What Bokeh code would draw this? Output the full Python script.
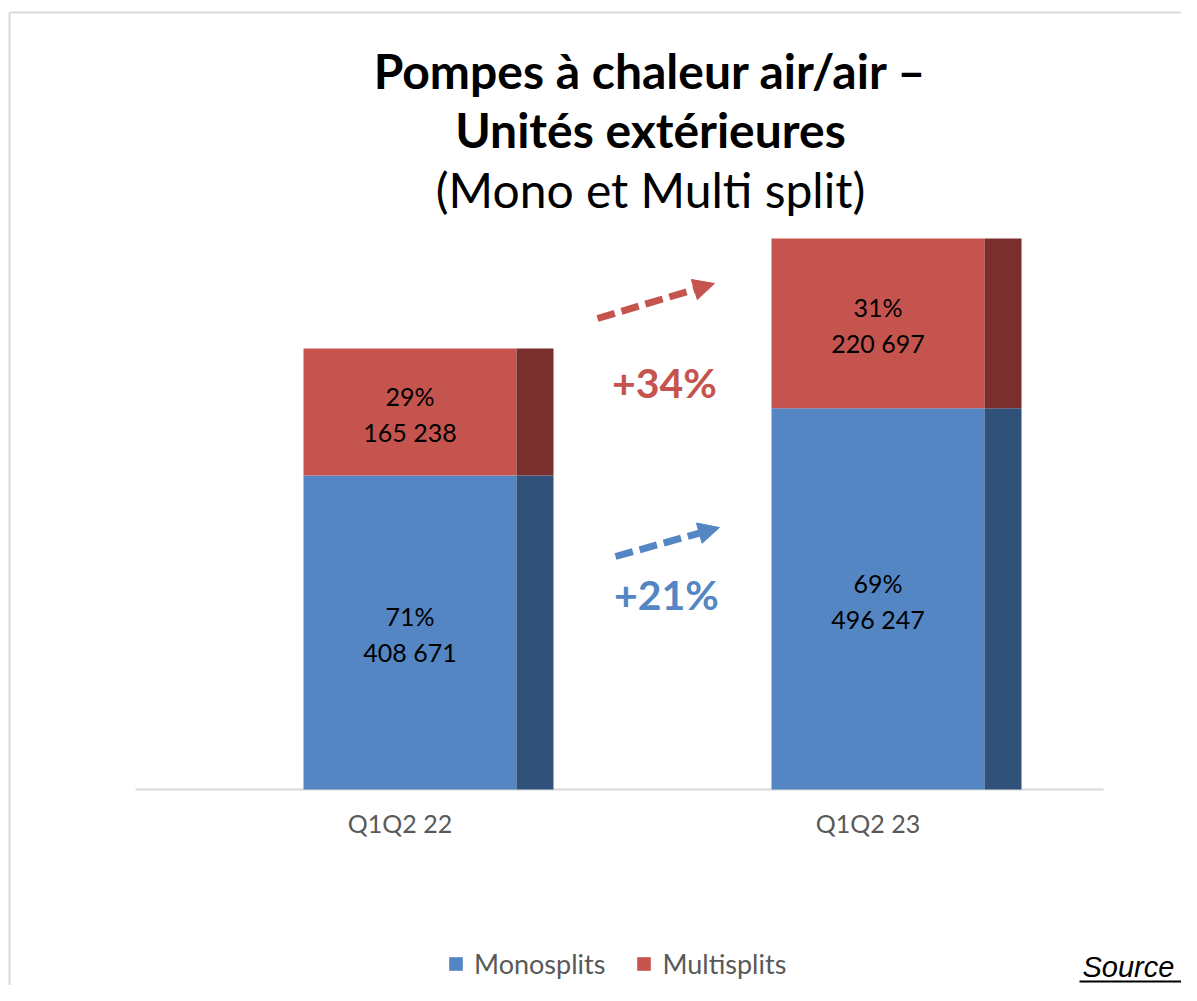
from bokeh.plotting import figure
from bokeh.models import Range1d, ColumnDataSource, Arrow, NormalHead
from bokeh.embed import file_html
from bokeh.resources import INLINE
from bokeh.core.properties import value

# ---------------- data ----------------
CATEGORIES = ["Q1Q2 22", "Q1Q2 23"]
SERIES = ["Monosplits", "Multisplits"]
MONOSPLITS = [408671, 496247]
MULTISPLITS = [165238, 220697]
TITLE_LINES = ["Pompes à chaleur air/air –", "Unités extérieures", "(Mono et Multi split)"]
SOURCE_TEXT = "Source"

# ---------------- style / layout ----------------
BLUE, RED = "#5386C3", "#C5544F"
DBLUE, DRED = "#30527A", "#7A2E2E"
GREY_TXT = "#595959"
LINE_GREY = "#D9D9D9"
FONT = "Lato"

W, H = 1181, 985
BASE_Y = 789        # pixel y of the zero line
TOP_Y = 348         # pixel y of the first bar top
BAR0_X = 409.5      # pixel x of first front-face centre
STEP = 468          # px between categories
FRONT_W_PX = 213
SIDE_W_PX = 37

totals = [a + b for a, b in zip(MONOSPLITS, MULTISPLITS)]
upp = totals[0] / (BASE_Y - TOP_Y)  # data units per pixel

p = figure(
    width=W, height=H,
    x_range=Range1d(-BAR0_X / STEP, (W - BAR0_X) / STEP),
    y_range=Range1d(-(H - BASE_Y) * upp, BASE_Y * upp),
    output_backend="svg", toolbar_location=None,
    x_axis_location=None, y_axis_location=None,
    min_border=0, outline_line_color=None,
    background_fill_color="white", border_fill_color="white",
)
p.xgrid.visible = False
p.ygrid.visible = False
p.extra_x_ranges = {"px": Range1d(0, W)}
p.extra_y_ranges = {"px": Range1d(H, 0)}

# border (top and left of the chart area)
p.segment(x0=[9, 9], y0=[12, 12], x1=[W, 9], y1=[12, H],
          x_range_name="px", y_range_name="px", line_color=LINE_GREY, line_width=2)

# category axis line
p.segment(x0=[135], y0=[BASE_Y], x1=[1103], y1=[BASE_Y],
          x_range_name="px", y_range_name="px", line_color=LINE_GREY, line_width=2)

xs = list(range(len(CATEGORIES)))
side_shift = (FRONT_W_PX + SIDE_W_PX) / 2 / STEP
src = ColumnDataSource(dict(
    x=xs,
    xs=[i + side_shift for i in xs],
    Monosplits=MONOSPLITS,
    Multisplits=MULTISPLITS,
))

p.vbar_stack(SERIES, x="x", width=FRONT_W_PX / STEP, fill_color=[BLUE, RED],
             line_color=None, source=src, legend_label=SERIES)
p.vbar_stack(SERIES, x="xs", width=SIDE_W_PX / STEP, fill_color=[DBLUE, DRED],
             line_color=None, source=src)

# bar labels
lx, ly, l1, l2 = [], [], [], []
for i in xs:
    bottom = 0
    for vals in (MONOSPLITS, MULTISPLITS):
        v = vals[i]
        lx.append(i)
        ly.append(bottom + v / 2)
        l1.append(f"{round(100 * v / totals[i])}%")
        l2.append(f"{v:,}".replace(",", " "))
        bottom += v
lab = ColumnDataSource(dict(x=lx, y=ly, t1=l1, t2=l2))
for col, off in (("t1", -16), ("t2", 20)):
    p.text(x="x", y="y", text=col, source=lab, y_offset=off,
           text_align="center", text_baseline="middle",
           text_font=value(FONT), text_font_size="25px", text_color="black")

# category labels
p.text(x=xs, y=[0] * len(xs), text=CATEGORIES, x_offset=-10, y_offset=33,
       text_align="center", text_baseline="middle",
       text_font=value(FONT), text_font_size="25px", text_color=GREY_TXT)

# growth annotations
g_multi = f"+{round(100 * (MULTISPLITS[1] / MULTISPLITS[0] - 1))}%"
g_mono = f"+{round(100 * (MONOSPLITS[1] / MONOSPLITS[0] - 1))}%"
p.text(x=[664], y=[382], text=[g_multi], x_range_name="px", y_range_name="px",
       text_align="center", text_baseline="middle", text_font=value(FONT),
       text_font_style="bold", text_font_size="41px", text_color=RED)
p.text(x=[666], y=[594], text=[g_mono], x_range_name="px", y_range_name="px",
       text_align="center", text_baseline="middle", text_font=value(FONT),
       text_font_style="bold", text_font_size="41px", text_color=BLUE)

p.add_layout(Arrow(x_start=597, y_start=318, x_end=714, y_end=283,
                   x_range_name="px", y_range_name="px",
                   line_color=RED, line_width=7, line_dash="18 7",
                   end=NormalHead(size=21, fill_color=RED, line_color=RED)))
p.add_layout(Arrow(x_start=615, y_start=556, x_end=719, y_end=527,
                   x_range_name="px", y_range_name="px",
                   line_color=BLUE, line_width=7, line_dash="18 7",
                   end=NormalHead(size=21, fill_color=BLUE, line_color=BLUE)))

# title
for txt, y, style in zip(TITLE_LINES, [70, 129, 189], ["bold", "bold", "normal"]):
    p.text(x=[650], y=[y], text=[txt], x_range_name="px", y_range_name="px",
           text_align="center", text_baseline="middle", text_font=value(FONT),
           text_font_style=style, text_font_size="48px", text_color="black")

# source
p.text(x=[1082], y=[966], text=[SOURCE_TEXT], x_range_name="px", y_range_name="px",
       text_align="left", text_baseline="middle",
       text_font=value("Liberation Sans"), text_font_style="italic",
       text_font_size="29px", text_color="black")
p.segment(x0=[1079], y0=[981], x1=[W], y1=[981],
          x_range_name="px", y_range_name="px", line_color="black", line_width=2)

# legend
lg = p.legend[0]
lg.orientation = "horizontal"
lg.location = (447, 5)
lg.border_line_alpha = 0
lg.background_fill_alpha = 0
lg.padding = 0
lg.margin = 0
lg.spacing = 30
lg.label_standoff = 10
lg.glyph_width = 17
lg.glyph_height = 17
lg.label_text_font = FONT
lg.label_text_font_size = "27px"
lg.label_text_color = GREY_TXT

open("out.html", "w").write(file_html(p, INLINE))
